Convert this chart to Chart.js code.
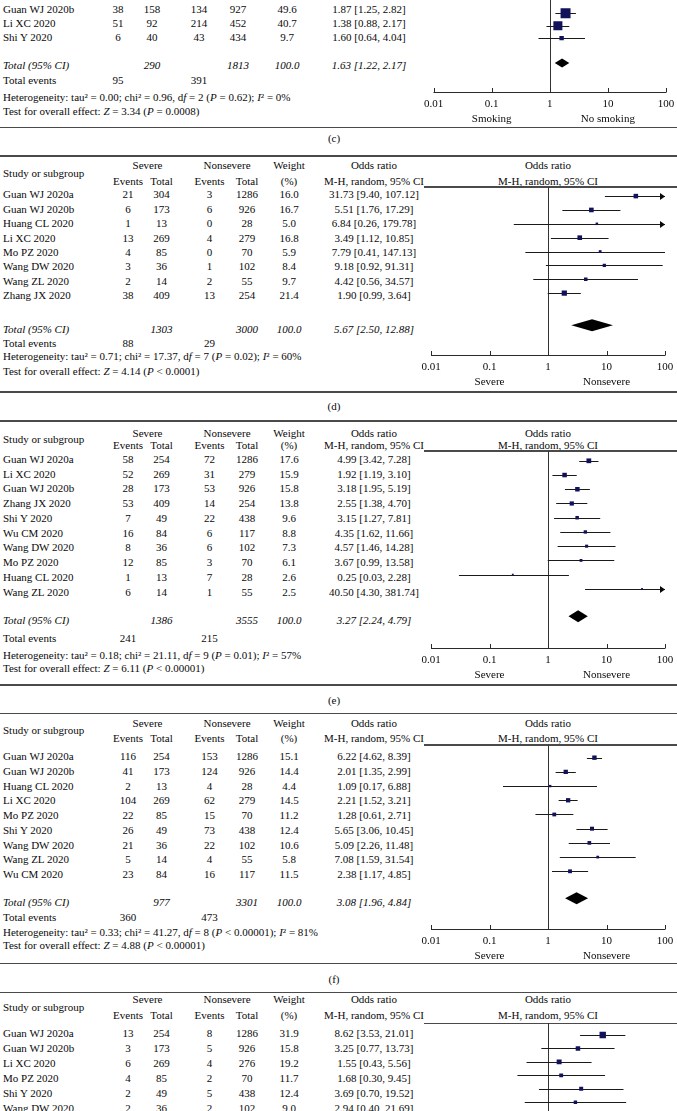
<!DOCTYPE html>
<html>
<head>
<meta charset="utf-8">
<script src="https://cdn.jsdelivr.net/npm/chart.js@4.4.1/dist/chart.umd.min.js"></script>
<style>
html, body { margin: 0; padding: 0; background: #fff; }
#page { position: relative; width: 677px; height: 1111px; overflow: hidden;
        font-family: "Liberation Serif", "Times New Roman", serif; font-size: 11px; color: #0a0a0a; }
.t { position: absolute; white-space: nowrap; line-height: 1; }
.rule { position: absolute; height: 1.6px; background: #4a4a4a; }
canvas { position: absolute; }
</style>
</head>
<body>
<div id="page"></div>
<script>
// ── Data ──
const axisTicks = [0.01, 0.1, 1, 10, 100];

// (c) smoking, only the last rows are visible
const cStudies   = ['Guan WJ 2020b', 'Li XC 2020', 'Shi Y 2020'];
const cSevEvents = [38, 51, 6];
const cSevTotal  = [158, 92, 40];
const cNonEvents = [134, 214, 43];
const cNonTotal  = [927, 452, 434];
const cWeight    = [49.6, 40.7, 9.7];
const cOR        = [1.87, 1.38, 1.60];
const cLow       = [1.25, 0.88, 0.64];
const cHigh      = [2.82, 2.17, 4.04];
const cTotals    = [290, 1813, 95, 391];
const cPooled    = [1.63, 1.22, 2.17];
const cHet       = ['0.00', '0.96', 2, '= 0.62', 0];
const cTest      = ['3.34', '= 0.0008'];

// (d)
const dStudies   = ['Guan WJ 2020a', 'Guan WJ 2020b', 'Huang CL 2020', 'Li XC 2020', 'Mo PZ 2020', 'Wang DW 2020', 'Wang ZL 2020', 'Zhang JX 2020'];
const dSevEvents = [21, 6, 1, 13, 4, 3, 2, 38];
const dSevTotal  = [304, 173, 13, 269, 85, 36, 14, 409];
const dNonEvents = [3, 6, 0, 4, 0, 1, 2, 13];
const dNonTotal  = [1286, 926, 28, 279, 70, 102, 55, 254];
const dWeight    = [16.0, 16.7, 5.0, 16.8, 5.9, 8.4, 9.7, 21.4];
const dOR        = [31.73, 5.51, 6.84, 3.49, 7.79, 9.18, 4.42, 1.90];
const dLow       = [9.40, 1.76, 0.26, 1.12, 0.41, 0.92, 0.56, 0.99];
const dHigh      = [107.12, 17.29, 179.78, 10.85, 147.13, 91.31, 34.57, 3.64];
const dTotals    = [1303, 3000, 88, 29];
const dPooled    = [5.67, 2.50, 12.88];
const dHet       = ['0.71', '17.37', 7, '= 0.02', 60];
const dTest      = ['4.14', '< 0.0001'];

// (e)
const eStudies   = ['Guan WJ 2020a', 'Li XC 2020', 'Guan WJ 2020b', 'Zhang JX 2020', 'Shi Y 2020', 'Wu CM 2020', 'Wang DW 2020', 'Mo PZ 2020', 'Huang CL 2020', 'Wang ZL 2020'];
const eSevEvents = [58, 52, 28, 53, 7, 16, 8, 12, 1, 6];
const eSevTotal  = [254, 269, 173, 409, 49, 84, 36, 85, 13, 14];
const eNonEvents = [72, 31, 53, 14, 22, 6, 6, 3, 7, 1];
const eNonTotal  = [1286, 279, 926, 254, 438, 117, 102, 70, 28, 55];
const eWeight    = [17.6, 15.9, 15.8, 13.8, 9.6, 8.8, 7.3, 6.1, 2.6, 2.5];
const eOR        = [4.99, 1.92, 3.18, 2.55, 3.15, 4.35, 4.57, 3.67, 0.25, 40.50];
const eLow       = [3.42, 1.19, 1.95, 1.38, 1.27, 1.62, 1.46, 0.99, 0.03, 4.30];
const eHigh      = [7.28, 3.10, 5.19, 4.70, 7.81, 11.66, 14.28, 13.58, 2.28, 381.74];
const eTotals    = [1386, 3555, 241, 215];
const ePooled    = [3.27, 2.24, 4.79];
const eHet       = ['0.18', '21.11', 9, '= 0.01', 57];
const eTest      = ['6.11', '< 0.00001'];

// (f)
const fStudies   = ['Guan WJ 2020a', 'Guan WJ 2020b', 'Huang CL 2020', 'Li XC 2020', 'Mo PZ 2020', 'Shi Y 2020', 'Wang DW 2020', 'Wang ZL 2020', 'Wu CM 2020'];
const fSevEvents = [116, 41, 2, 104, 22, 26, 21, 5, 23];
const fSevTotal  = [254, 173, 13, 269, 85, 49, 36, 14, 84];
const fNonEvents = [153, 124, 4, 62, 15, 73, 22, 4, 16];
const fNonTotal  = [1286, 926, 28, 279, 70, 438, 102, 55, 117];
const fWeight    = [15.1, 14.4, 4.4, 14.5, 11.2, 12.4, 10.6, 5.8, 11.5];
const fOR        = [6.22, 2.01, 1.09, 2.21, 1.28, 5.65, 5.09, 7.08, 2.38];
const fLow       = [4.62, 1.35, 0.17, 1.52, 0.61, 3.06, 2.26, 1.59, 1.17];
const fHigh      = [8.39, 2.99, 6.88, 3.21, 2.71, 10.45, 11.48, 31.54, 4.85];
const fTotals    = [977, 3301, 360, 473];
const fPooled    = [3.08, 1.96, 4.84];
const fHet       = ['0.33', '41.27', 8, '< 0.00001', 81];
const fTest      = ['4.88', '< 0.00001'];

// (g) cut off at the bottom of the page
const gStudies   = ['Guan WJ 2020a', 'Guan WJ 2020b', 'Li XC 2020', 'Mo PZ 2020', 'Shi Y 2020', 'Wang DW 2020'];
const gSevEvents = [13, 3, 6, 4, 2, 2];
const gSevTotal  = [254, 173, 269, 85, 49, 36];
const gNonEvents = [8, 5, 4, 2, 5, 2];
const gNonTotal  = [1286, 926, 276, 70, 438, 102];
const gWeight    = [31.9, 15.8, 19.2, 11.7, 12.4, 9.0];
const gOR        = [8.62, 3.25, 1.55, 1.68, 3.69, 2.94];
const gLow       = [3.53, 0.77, 0.43, 0.30, 0.70, 0.40];
const gHigh      = [21.01, 13.73, 5.56, 9.45, 19.52, 21.69];

// ── Layout (page pixels) ──
const colsC = [118, 152, 199, 238, 287, 369];
const colsD = [128, 161.5, 209.5, 247, 289, 374];
const layout = {
    c: { plotTop: 0, plotBottom: 126, r0: 9, pitch: 14, totalY: 65, evY: 80, hetY: 96.5, testY: 111,
         axisY: 92, ruleBottom: 127.5, labelY: 138, cols: colsC, xL: 433.5, xR: 666, sizeK: 1.0, dH: 4.5, arrows: [] },
    d: { ruleTop: 156, hdr1: 165, hdr2: 180.5, ruleUnder: 187, plotTop: 187, plotBottom: 390, r0: 194.3, pitch: 14.43,
         totalY: 328.7, evY: 342.7, hetY: 356, testY: 370.7, axisY: 355, ruleBottom: 392, labelY: 406,
         cols: colsD, xL: 431, xR: 665, sizeK: 0.8, dH: 6, arrows: [0, 2] },
    e: { ruleTop: 421, hdr1: 432.5, hdr2: 444.5, ruleUnder: 451, plotTop: 451, plotBottom: 683, r0: 459, pitch: 14.74,
         totalY: 620, evY: 638.3, hetY: 655, testY: 668.3, axisY: 648.3, ruleBottom: 685, labelY: 700,
         cols: colsD, xL: 431, xR: 665, sizeK: 0.8, dH: 6, arrows: [9] },
    f: { ruleTop: 713.3, hdr1: 723, hdr2: 737.5, ruleUnder: 745, plotTop: 745, plotBottom: 961, r0: 756, pitch: 14.75,
         totalY: 902, evY: 917.3, hetY: 931.7, testY: 945, axisY: 929.3, ruleBottom: 963.3, labelY: 979,
         cols: colsD, xL: 431, xR: 665, sizeK: 0.8, dH: 6, arrows: [] },
    g: { ruleTop: 992.3, hdr1: 999.3, hdr2: 1015, ruleUnder: 1023.3, plotTop: 1023, plotBottom: 1111, r0: 1033.3, pitch: 15,
         cols: colsD, xL: 431, xR: 665, sizeK: 0.8, dH: 6, arrows: [] }
};

const panels = [
    { key: 'c', studies: cStudies, se: cSevEvents, st: cSevTotal, ne: cNonEvents, nt: cNonTotal, w: cWeight,
      or: cOR, lo: cLow, hi: cHigh, totals: cTotals, pooled: cPooled, het: cHet, test: cTest, sides: ['Smoking', 'No smoking'] },
    { key: 'd', studies: dStudies, se: dSevEvents, st: dSevTotal, ne: dNonEvents, nt: dNonTotal, w: dWeight,
      or: dOR, lo: dLow, hi: dHigh, totals: dTotals, pooled: dPooled, het: dHet, test: dTest, sides: ['Severe', 'Nonsevere'] },
    { key: 'e', studies: eStudies, se: eSevEvents, st: eSevTotal, ne: eNonEvents, nt: eNonTotal, w: eWeight,
      or: eOR, lo: eLow, hi: eHigh, totals: eTotals, pooled: ePooled, het: eHet, test: eTest, sides: ['Severe', 'Nonsevere'] },
    { key: 'f', studies: fStudies, se: fSevEvents, st: fSevTotal, ne: fNonEvents, nt: fNonTotal, w: fWeight,
      or: fOR, lo: fLow, hi: fHigh, totals: fTotals, pooled: fPooled, het: fHet, test: fTest, sides: ['Severe', 'Nonsevere'] },
    { key: 'g', studies: gStudies, se: gSevEvents, st: gSevTotal, ne: gNonEvents, nt: gNonTotal, w: gWeight,
      or: gOR, lo: gLow, hi: gHigh, sides: ['Severe', 'Nonsevere'] }
];

// ── Helpers ──
const page = document.getElementById('page');
const FONT = '11px "Liberation Serif", "Times New Roman", serif';

function put(html, x, y, align, italic) {
    const el = document.createElement('div');
    el.className = 't';
    el.innerHTML = html;
    el.style.left = x + 'px';
    el.style.top = y + 'px';
    const tx = align === 'c' ? '-50%' : align === 'r' ? '-100%' : '0';
    el.style.transform = `translate(${tx}, -50%)`;
    if (italic) el.style.fontStyle = 'italic';
    page.appendChild(el);
}

function rule(x1, x2, y) {
    const el = document.createElement('div');
    el.className = 'rule';
    el.style.left = x1 + 'px';
    el.style.width = (x2 - x1) + 'px';
    el.style.top = (y - 0.8) + 'px';
    page.appendChild(el);
}

const ciText = (v, a, b) => `${v.toFixed(2)} [${a.toFixed(2)}, ${b.toFixed(2)}]`;

// ── Table text ──
panels.forEach(p => {
    const L = layout[p.key];
    const c = L.cols;

    if (L.ruleTop != null) {
        rule(0, 677, L.ruleTop);
        put('Severe', 147.5, L.hdr1, 'c');
        put('Nonsevere', 227, L.hdr1, 'c');
        put('Weight', c[4], L.hdr1, 'c');
        put('Odds ratio', c[5], L.hdr1, 'c');
        put('Odds ratio', 548, L.hdr1, 'c');
        put('Study or subgroup', 3, (L.hdr1 + L.hdr2) / 2, 'l');
        put('Events', c[0], L.hdr2, 'c');
        put('Total', c[1], L.hdr2, 'c');
        put('Events', c[2], L.hdr2, 'c');
        put('Total', c[3], L.hdr2, 'c');
        put('(%)', c[4], L.hdr2, 'c');
        put('M-H, random, 95% CI', c[5], L.hdr2, 'c');
        put('M-H, random, 95% CI', 548, L.hdr2, 'c');
        rule(424, 677, L.ruleUnder);
    }

    p.studies.forEach((s, i) => {
        const y = L.r0 + i * L.pitch;
        put(s, 3, y, 'l');
        put(p.se[i], c[0], y, 'c');
        put(p.st[i], c[1], y, 'c');
        put(p.ne[i], c[2], y, 'c');
        put(p.nt[i], c[3], y, 'c');
        put(p.w[i].toFixed(1), c[4], y, 'c');
        put(ciText(p.or[i], p.lo[i], p.hi[i]), c[5], y, 'c');
    });

    if (p.totals) {
        put('Total (95% CI)', 3, L.totalY, 'l', true);
        put(p.totals[0], c[1], L.totalY, 'c', true);
        put(p.totals[1], c[3], L.totalY, 'c', true);
        put('100.0', c[4], L.totalY, 'c', true);
        put(ciText(p.pooled[0], p.pooled[1], p.pooled[2]), c[5], L.totalY, 'c', true);
        put('Total events', 3, L.evY, 'l');
        put(p.totals[2], c[0], L.evY, 'c');
        put(p.totals[3], c[2], L.evY, 'c');
        const h = p.het;
        put(`Heterogeneity: tau² = ${h[0]}; chi² = ${h[1]}, d<i>f</i> = ${h[2]} (<i>P</i> ${h[3]}); <i>I</i>² = ${h[4]}%`, 3, L.hetY, 'l');
        put(`Test for overall effect: <i>Z</i> = ${p.test[0]} (<i>P</i> ${p.test[1]})`, 3, L.testY, 'l');
        rule(0, 677, L.ruleBottom);
        put(`(${p.key})`, 334, L.labelY, 'c');
    }
});

// ── Forest plot layer: no-effect line, whiskers, pooled diamond, axis ──
function forestLayer(p, L, top) {
    const local = y => y - top;
    return {
        id: 'forest_' + p.key,
        beforeDatasetsDraw(chart) {
            const ctx = chart.ctx, xs = chart.scales.x, ys = chart.scales.y;
            const x1 = Math.round(xs.getPixelForValue(1)) + 0.5;
            const bottom = L.axisY != null ? local(L.axisY) : chart.height;
            ctx.save();
            ctx.lineWidth = 1;
            ctx.strokeStyle = '#333';
            ctx.beginPath();
            ctx.moveTo(x1, 0);
            ctx.lineTo(x1, bottom);
            ctx.stroke();

            ctx.strokeStyle = '#1a1a1a';
            ctx.fillStyle = '#0a0a0a';
            const xMax = xs.getPixelForValue(100);
            p.or.forEach((v, i) => {
                const y = Math.round(ys.getPixelForValue(i)) + 0.5;
                const a = xs.getPixelForValue(Math.max(p.lo[i], 0.01));
                const b = xs.getPixelForValue(Math.min(p.hi[i], 100));
                ctx.beginPath();
                ctx.moveTo(a, y);
                ctx.lineTo(b, y);
                ctx.stroke();
                if (L.arrows.includes(i)) {
                    ctx.beginPath();
                    ctx.moveTo(xMax, y);
                    ctx.lineTo(xMax - 5, y - 3.5);
                    ctx.lineTo(xMax - 5, y + 3.5);
                    ctx.closePath();
                    ctx.fill();
                }
            });

            if (L.axisY != null) {
                const ay = Math.round(local(L.axisY)) + 0.5;
                ctx.strokeStyle = '#2a2a2a';
                ctx.beginPath();
                ctx.moveTo(xs.getPixelForValue(0.01), ay);
                ctx.lineTo(xs.getPixelForValue(100), ay);
                axisTicks.forEach(t => {
                    const tx = Math.round(xs.getPixelForValue(t)) + 0.5;
                    ctx.moveTo(tx, ay - 4.5);
                    ctx.lineTo(tx, ay);
                });
                ctx.stroke();
                ctx.fillStyle = '#0a0a0a';
                ctx.font = FONT;
                ctx.textAlign = 'center';
                ctx.textBaseline = 'middle';
                axisTicks.forEach(t => ctx.fillText(String(t), xs.getPixelForValue(t), ay + 12));
                ctx.fillText(p.sides[0], xs.getPixelForValue(0.1), ay + 26.5);
                ctx.fillText(p.sides[1], xs.getPixelForValue(10), ay + 26.5);
            }
            ctx.restore();
        },
        afterDatasetsDraw(chart) {
            if (!p.pooled) return;
            const ctx = chart.ctx, xs = chart.scales.x, ys = chart.scales.y;
            const yRow = (L.totalY - L.r0) / L.pitch;
            const y = ys.getPixelForValue(yRow);
            const a = xs.getPixelForValue(p.pooled[1]);
            const m = xs.getPixelForValue(p.pooled[0]);
            const b = xs.getPixelForValue(p.pooled[2]);
            ctx.save();
            ctx.fillStyle = '#000';
            ctx.beginPath();
            ctx.moveTo(a, y);
            ctx.lineTo(m, y - L.dH);
            ctx.lineTo(b, y);
            ctx.lineTo(m, y + L.dH);
            ctx.closePath();
            ctx.fill();
            ctx.restore();
        }
    };
}

// ── Charts ──
const CANVAS_LEFT = 420, CANVAS_W = 257;
panels.forEach(p => {
    const L = layout[p.key];
    const top = Math.round(L.plotTop);
    const height = Math.round(L.plotBottom) - top;
    const canvas = document.createElement('canvas');
    canvas.width = CANVAS_W;
    canvas.height = height;
    canvas.style.left = CANVAS_LEFT + 'px';
    canvas.style.top = top + 'px';
    canvas.style.width = CANVAS_W + 'px';
    canvas.style.height = height + 'px';
    page.appendChild(canvas);

    // marks sit ~2px above the text centre
    const markR0 = L.r0 - 2;
    const yMin = (top - markR0) / L.pitch;
    const yMax = yMin + height / L.pitch;

    new Chart(canvas.getContext('2d'), {
        type: 'scatter',
        data: {
            datasets: [{
                data: p.or.map((v, i) => ({ x: v, y: i })),
                pointStyle: 'rect',
                pointRadius: p.w.map(w => L.sizeK * Math.sqrt(w)),
                pointBorderWidth: 0,
                backgroundColor: '#12125a',
                borderColor: '#12125a'
            }]
        },
        options: {
            responsive: false,
            animation: false,
            devicePixelRatio: 1,
            events: [],
            layout: { padding: { left: L.xL - CANVAS_LEFT, right: CANVAS_LEFT + CANVAS_W - L.xR, top: 0, bottom: 0 } },
            scales: {
                x: { type: 'logarithmic', min: 0.01, max: 100, bounds: 'data', display: false },
                y: { type: 'linear', min: yMin, max: yMax, bounds: 'data', reverse: true, display: false }
            },
            plugins: { legend: { display: false }, tooltip: { enabled: false } }
        },
        plugins: [forestLayer(p, L, top)]
    });
});
</script>
</body>
</html>
